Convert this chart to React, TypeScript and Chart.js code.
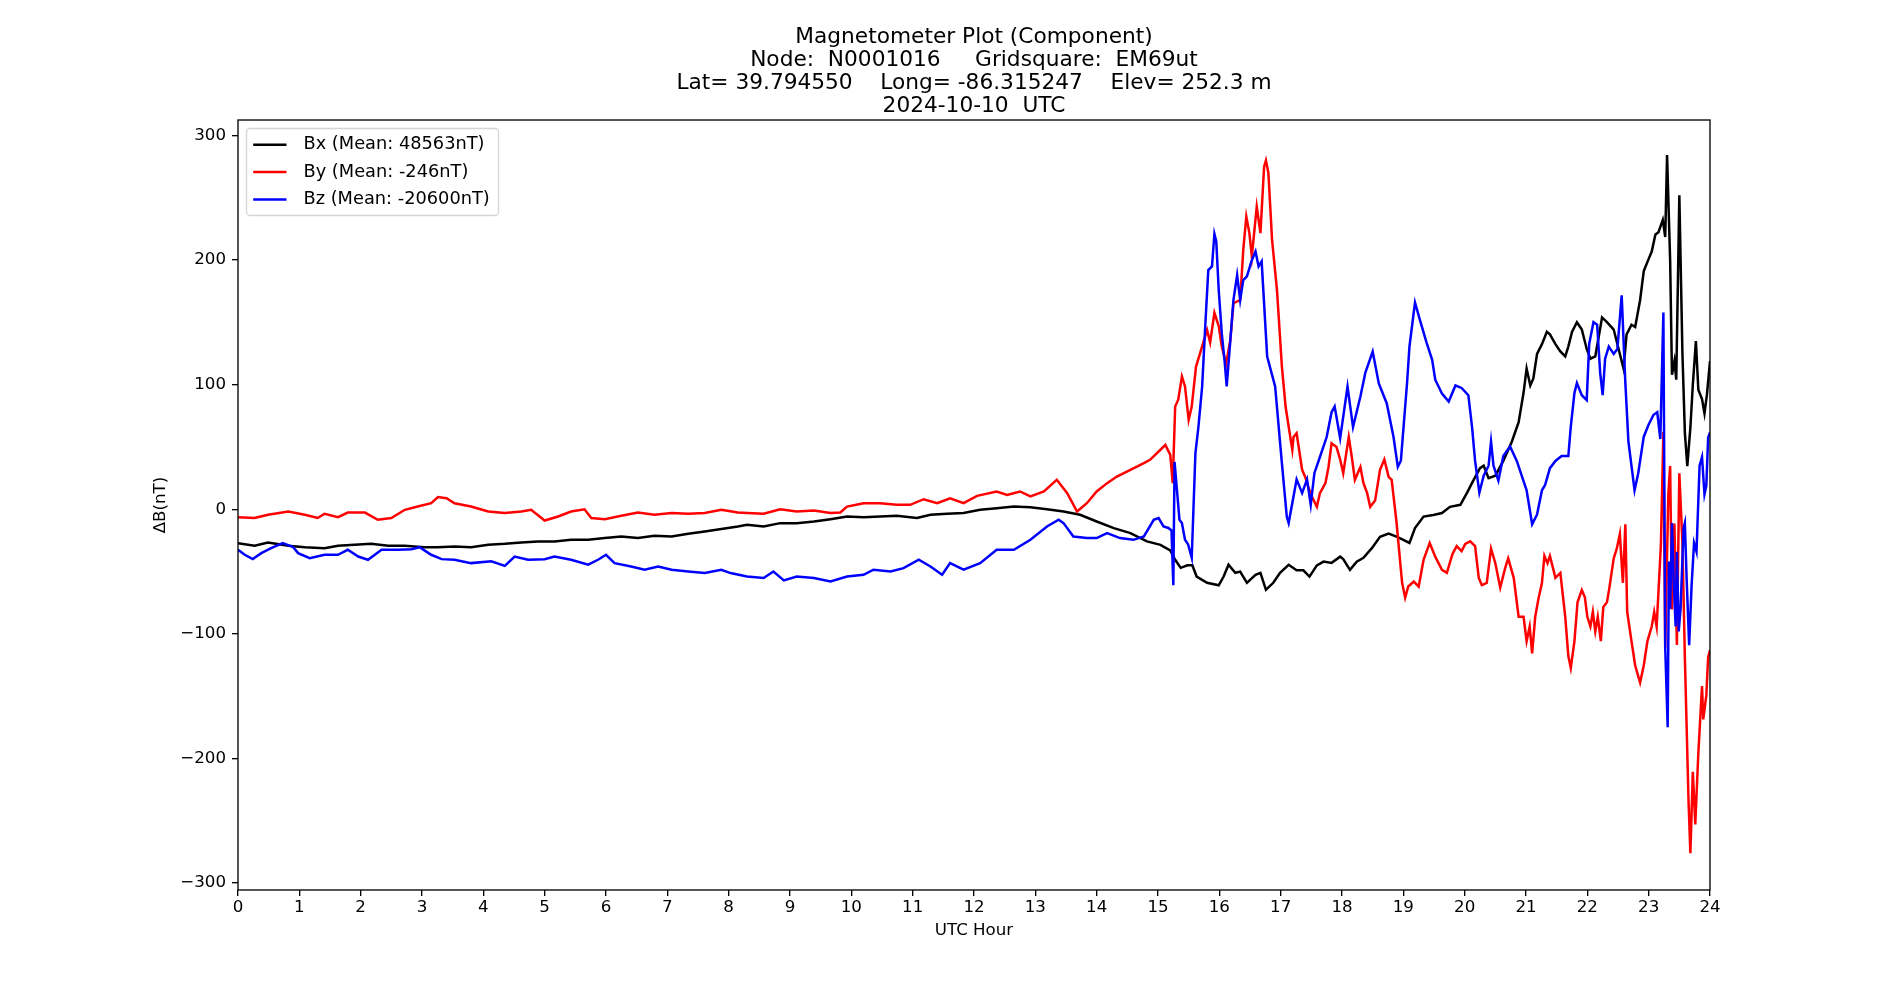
import React, { useEffect, useRef } from "react";
import { Chart, registerables } from "chart.js";

Chart.register(...registerables);

const titleLines = [
  "Magnetometer Plot (Component)",
  "Node:  N0001016     Gridsquare:  EM69ut",
  "Lat= 39.794550    Long= -86.315247    Elev= 252.3 m",
  "2024-10-10  UTC",
];
const xAxisTitle = "UTC Hour";
const yAxisTitle = "ΔB(nT)";
const seriesLabels = ["Bx (Mean: 48563nT)", "By (Mean: -246nT)", "Bz (Mean: -20600nT)"];
const seriesColors = ["#000000", "#ff0000", "#0000ff"];
const hourTicks = [0, 1, 2, 3, 4, 5, 6, 7, 8, 9, 10, 11, 12, 13, 14, 15, 16, 17, 18, 19, 20, 21, 22, 23, 24];
const deltaTicks = [-300, -200, -100, 0, 100, 200, 300];

const bxHours = [
  0, 0.27, 0.49, 0.82, 1.09, 1.41, 1.63, 1.9, 2.17, 2.45, 2.72, 3.04, 3.26, 3.53, 3.8, 4.08, 4.35, 4.62, 4.89, 5.16,
  5.43, 5.71, 5.98, 6.25, 6.52, 6.79, 7.07, 7.34, 7.61, 7.88, 8.15, 8.3, 8.57, 8.84, 9.11, 9.39, 9.66, 9.93, 10.2,
  10.47, 10.74, 11.07, 11.29, 11.56, 11.83, 12.1, 12.37, 12.65, 12.92, 13.19, 13.46, 13.73, 14.0, 14.28, 14.55, 14.82,
  15.04, 15.2, 15.28, 15.37, 15.48, 15.56, 15.63, 15.8, 15.99, 16.07, 16.15, 16.26, 16.34, 16.45, 16.59, 16.67, 16.76,
  16.88, 16.99, 17.13, 17.26, 17.37, 17.47, 17.59, 17.7, 17.83, 17.97, 18.02, 18.13, 18.24, 18.35, 18.49, 18.62,
  18.76, 18.89, 19.0, 19.1, 19.19, 19.33, 19.49, 19.63, 19.76, 19.93, 20.04, 20.14, 20.25, 20.31, 20.39, 20.5, 20.63,
  20.77, 20.88, 20.96, 21.01, 21.07, 21.12, 21.18, 21.26, 21.34, 21.39, 21.48, 21.56, 21.64, 21.69, 21.75, 21.83,
  21.91, 21.99, 22.05, 22.13, 22.24, 22.32, 22.43, 22.51, 22.59, 22.64, 22.72, 22.78, 22.86, 22.92, 23.0, 23.05,
  23.11, 23.16, 23.23, 23.27, 23.3, 23.35, 23.38, 23.42, 23.45, 23.5, 23.55, 23.59, 23.63, 23.68, 23.72, 23.77,
  23.81, 23.87, 23.91, 23.95, 24.0,
];
const bxValues = [
  -27.2, -29.3, -26.7, -29.3, -30.4, -31.2, -29.3, -28.5, -27.7, -29.3, -29.3, -30.4, -30.4, -29.8, -30.4, -28.5,
  -27.7, -26.6, -25.8, -25.8, -24.5, -24.5, -23.1, -21.8, -23.1, -21.3, -21.8, -19.7, -17.8, -15.9, -13.8, -12.4,
  -13.8, -11.1, -11.1, -9.8, -7.9, -5.8, -6.3, -5.8, -5.2, -7, -4.4, -3.6, -3, -0.4, 0.9, 2.2, 1.7, 0, -1.8, -4.4,
  -9.8, -15.1, -19.1, -25.8, -28.5, -33, -40.5, -47, -45, -45, -54, -59, -61, -54, -44.5, -51, -50, -59, -52.6, -51,
  -64.6, -59, -51, -44.5, -49, -49, -54, -45, -42, -43, -38, -40, -48.6, -42, -39, -31, -22, -19.5, -22, -24.5, -27,
  -15, -5.8, -4.5, -3, 2, 3.6, 13.4, 23, 33, 35, 25, 27, 38.8, 54.4, 70, 93.5, 113, 99.4, 105, 124.8, 132.6, 142.4,
  140.4, 132.6, 126.8, 122.8, 130.6, 142.4, 150.2, 144.3, 128.7, 120.9, 122.8, 154, 150.2, 144.3, 128.7, 113, 140.4,
  148.2, 146.3, 167.8, 191.2, 201, 206.9, 220.6, 222.5, 232.3, 218.6, 284.3, 200, 108, 119, 104, 252, 126, 61.6,
  34.7, 65.5, 100, 135, 96, 88.5, 77, 92, 119,
];

const byHours = [
  0, 0.27, 0.49, 0.82, 1.09, 1.3, 1.41, 1.63, 1.79, 2.07, 2.28, 2.5, 2.72, 2.93, 3.15, 3.26, 3.4, 3.53, 3.8, 4.08,
  4.35, 4.62, 4.78, 5.0, 5.22, 5.43, 5.65, 5.76, 5.98, 6.25, 6.52, 6.79, 7.07, 7.34, 7.61, 7.88, 8.15, 8.3, 8.57,
  8.84, 9.11, 9.39, 9.66, 9.82, 9.93, 10.2, 10.47, 10.74, 10.96, 11.18, 11.4, 11.61, 11.83, 12.05, 12.37, 12.54,
  12.75, 12.92, 13.14, 13.35, 13.52, 13.68, 13.84, 14.0, 14.17, 14.33, 14.55, 14.77, 14.87, 15.04, 15.12, 15.2,
  15.24, 15.28, 15.33, 15.39, 15.44, 15.5, 15.55, 15.62, 15.72, 15.8, 15.85, 15.92, 15.99, 16.04, 16.11, 16.18,
  16.23, 16.34, 16.39, 16.44, 16.49, 16.53, 16.61, 16.67, 16.73, 16.76, 16.8, 16.86, 16.94, 17.02, 17.08, 17.13,
  17.19, 17.21, 17.26, 17.35, 17.4, 17.45, 17.51, 17.59, 17.64, 17.73, 17.78, 17.83, 17.91, 17.97, 18.02, 18.11,
  18.16, 18.21, 18.3, 18.35, 18.41, 18.46, 18.54, 18.62, 18.69, 18.76, 18.81, 18.89, 18.98, 19.03, 19.08, 19.17,
  19.25, 19.33, 19.43, 19.52, 19.63, 19.71, 19.8, 19.87, 19.95, 20.01, 20.09, 20.17, 20.23, 20.28, 20.36, 20.43,
  20.5, 20.58, 20.66, 20.71, 20.8, 20.88, 20.96, 21.01, 21.06, 21.1, 21.15, 21.2, 21.26, 21.3, 21.35, 21.39, 21.48,
  21.56, 21.64, 21.69, 21.73, 21.79, 21.84, 21.91, 21.96, 22.0, 22.05, 22.09, 22.13, 22.17, 22.22, 22.26, 22.32,
  22.36, 22.43, 22.48, 22.53, 22.58, 22.62, 22.65, 22.72, 22.78, 22.86, 22.92, 22.98, 23.05, 23.09, 23.13, 23.18,
  23.2, 23.24, 23.27, 23.32, 23.35, 23.38, 23.42, 23.46, 23.5, 23.55, 23.59, 23.65, 23.68, 23.72, 23.76, 23.81,
  23.87, 23.89, 23.94, 23.97, 24.0,
];
const byValues = [
  -6.3, -7, -4.4, -1.8, -4.4, -7, -3.6, -6.3, -2.6, -2.6, -8.4, -7, -0.4, 2.2, 4.9, 9.8, 8.9, 4.9, 2.2, -1.8, -3,
  -1.8, -0.4, -9, -5.8, -1.8, 0, -7, -7.9, -5.2, -2.6, -4.4, -3, -3.6, -3, -0.4, -2.6, -3, -3.6, 0, -1.8, -1, -3,
  -2.6, 2.2, 4.9, 4.9, 3.6, 3.6, 8.1, 4.9, 8.9, 4.9, 10.8, 14.3, 11.6, 14.3, 10.3, 14.3, 23.7, 13, -1.8, 4.9, 14.3,
  21, 26.3, 31.7, 37, 39.7, 47.8, 51.7, 43.7, 21, 82.5, 88, 106.6, 98.6, 71.8, 82.5, 114.6, 130.7, 144, 134, 157.7,
  147, 130.7, 117, 136, 165.5, 168, 208, 235, 221.7, 203, 243, 221.7, 275, 280, 270, 216, 176, 114.6, 82.5, 66.5,
  47.8, 58, 61, 31.7, 26, 18, 10, 2, 13, 21, 34, 53, 50, 40, 29, 58, 42, 23.7, 34, 21, 13, 2, 7, 31.7, 40, 26, 23.7,
  -11, -59, -71, -62, -58, -62, -40.5, -27, -38, -48.6, -51, -36, -29.6, -33.5, -27.7, -25.7, -29.6, -55, -60.9, -59,
  -31.6, -43.3, -62.9, -47.2, -39.4, -55, -86.3, -86.3, -105.8, -94.1, -115.6, -86.3, -72.6, -59, -37.4, -43.3,
  -37.4, -55, -51.1, -86.3, -117.6, -127.4, -105.8, -74.6, -64.8, -70.7, -86.3, -94.1, -82.4, -98, -86.3, -105.8,
  -78.5, -74.6, -62.9, -39.4, -31.6, -19.9, -59, -12, -82.4, -105.8, -125.4, -139.1, -125.4, -105.8, -94.1, -82.4,
  -94.1, -47.2, -27.7, 62, -111, 11.6, 34.7, -80.4, -11.4, -109, 28.9, -26.7, -118.8, -233.9, -276, -210.8, -253,
  -195.5, -141.8, -168.6, -149.4, -118.8, -113,
];

const bzHours = [
  0, 0.11, 0.24, 0.38, 0.54, 0.73, 0.9, 0.98, 1.17, 1.41, 1.63, 1.79, 1.96, 2.12, 2.34, 2.61, 2.83, 2.96, 3.15, 3.32,
  3.53, 3.8, 4.13, 4.35, 4.51, 4.73, 5.0, 5.16, 5.43, 5.71, 5.87, 6.0, 6.14, 6.41, 6.63, 6.85, 7.07, 7.34, 7.61, 7.88,
  8.03, 8.3, 8.57, 8.73, 8.9, 9.11, 9.39, 9.66, 9.93, 10.2, 10.36, 10.64, 10.85, 11.1, 11.29, 11.48, 11.61, 11.83,
  12.1, 12.37, 12.65, 12.92, 13.19, 13.38, 13.46, 13.62, 13.84, 14.0, 14.17, 14.38, 14.6, 14.77, 14.93, 15.01, 15.09,
  15.17, 15.22, 15.25, 15.27, 15.35, 15.39, 15.44, 15.49, 15.55, 15.61, 15.66, 15.72, 15.77, 15.82, 15.88, 15.92,
  15.95, 15.99, 16.04, 16.09, 16.12, 16.18, 16.23, 16.29, 16.34, 16.39, 16.45, 16.53, 16.59, 16.64, 16.69, 16.78,
  16.91, 17.02, 17.1, 17.13, 17.26, 17.35, 17.43, 17.49, 17.55, 17.64, 17.75, 17.83, 17.88, 17.97, 18.09, 18.18,
  18.3, 18.38, 18.5, 18.6, 18.73, 18.84, 18.91, 18.96, 19.06, 19.1, 19.19, 19.27, 19.38, 19.47, 19.52, 19.63, 19.74,
  19.85, 19.95, 20.06, 20.12, 20.17, 20.24, 20.31, 20.39, 20.43, 20.47, 20.55, 20.63, 20.74, 20.85, 20.93, 21.01,
  21.1, 21.18, 21.26, 21.31, 21.39, 21.48, 21.58, 21.69, 21.73, 21.79, 21.83, 21.91, 21.99, 22.03, 22.1, 22.16, 22.21,
  22.25, 22.29, 22.35, 22.43, 22.49, 22.56, 22.62, 22.67, 22.73, 22.77, 22.83, 22.92, 23.0, 23.08, 23.14, 23.19,
  23.24, 23.27, 23.31, 23.33, 23.35, 23.38, 23.41, 23.44, 23.46, 23.49, 23.52, 23.57, 23.59, 23.62, 23.66, 23.7,
  23.74, 23.78, 23.83, 23.87, 23.91, 23.94, 23.97, 24.0,
];
const bzValues = [
  -32.5, -36.5, -40, -35.2, -31.2, -27.2, -30.4, -35.2, -39.2, -36.5, -36.5, -32.5, -37.9, -40.5, -32.5, -32.5, -32,
  -30.4, -36.5, -40, -40.5, -43.2, -41.8, -45.4, -37.9, -40.5, -40, -37.9, -40.5, -44.5, -40.5, -36.5, -43.2, -45.9,
  -48.5, -45.9, -48.5, -49.9, -51.2, -48.5, -51.2, -53.9, -55.2, -49.9, -57.1, -53.9, -55.2, -57.9, -53.9, -52.6,
  -48.5, -49.9, -47.2, -40.5, -45.9, -52.6, -43.2, -48.5, -43.2, -32.5, -32.5, -24.5, -13.8, -8.4, -11.1, -21.8,
  -23.1, -23.1, -19.1, -23.1, -24.5, -21.8, -8.4, -7, -13.8, -15, -17, -61, 38, -8.4, -11, -24.5, -28, -39, 45, 66.5,
  98.6, 146.7, 192, 195, 221, 215, 176, 141, 117, 98.6, 136, 168, 188, 168, 184, 187, 200, 207, 195, 199, 122.6,
  98.6, 37, -6, -11, 24, 13, 24, 3.6, 29, 42, 58, 78, 82.5, 57, 98.6, 66, 90.5, 109.5, 126.6, 101, 85, 58, 34, 39,
  101, 130.7, 166, 152, 133.6, 120, 104, 93, 86.5, 99.4, 97.4, 91.6, 66.1, 38.8, 13.4, 27, 35, 54.4, 35, 23, 42.7,
  50.5, 38.8, 27, 15.3, -12, -4.2, 15.3, 19.3, 33, 38.8, 42.7, 42.7, 66.1, 93.5, 101.3, 91.6, 87.7, 132.6, 150.2,
  148.2, 109.1, 91.6, 120.9, 130.6, 124.8, 128.7, 171.7, 101.3, 54.4, 31, 15.3, 29, 58.3, 68.1, 75.9, 77.9, 56.4,
  158, -111, -175, -42, -80, -11, -61, -94, -34, -98, -80, -15, -11, -57, -109, -61, -27, -34, 35, 42, 12, 19, 57.7,
  61.6,
];

const FONT = "'DejaVu Sans', 'Liberation Sans', sans-serif";

function fmtTick(v: number): string {
  return v < 0 ? "\u2212" + String(Math.abs(v)) : String(v);
}

const framePlugin = {
  id: "mplFrame",
  afterDraw(chart: any) {
    const { ctx, chartArea } = chart;
    ctx.save();
    ctx.strokeStyle = "#000";
    ctx.lineWidth = 1.33;
    ctx.strokeRect(chartArea.left, chartArea.top, chartArea.right - chartArea.left, chartArea.bottom - chartArea.top);
    ctx.restore();
  },
};

const legendPlugin = {
  id: "mplLegend",
  afterDraw(chart: any) {
    const { ctx, chartArea } = chart;
    const x0 = chartArea.left + 8.5;
    const y0 = chartArea.top + 8.5;
    const w = 252;
    const h = 87;
    ctx.save();
    ctx.beginPath();
    if ((ctx as any).roundRect) (ctx as any).roundRect(x0, y0, w, h, 3.5);
    else ctx.rect(x0, y0, w, h);
    ctx.fillStyle = "rgba(255,255,255,0.8)";
    ctx.fill();
    ctx.strokeStyle = "rgba(204,204,204,0.8)";
    ctx.lineWidth = 1.33;
    ctx.stroke();
    ctx.font = "17.8px " + FONT;
    ctx.textBaseline = "middle";
    ctx.textAlign = "left";
    chart.data.datasets.forEach((ds: any, i: number) => {
      const y = y0 + 16.2 + i * 27.4;
      ctx.beginPath();
      ctx.moveTo(x0 + 6.7, y);
      ctx.lineTo(x0 + 40, y);
      ctx.strokeStyle = ds.borderColor;
      ctx.lineWidth = 2.5;
      ctx.stroke();
      ctx.fillStyle = "#000";
      ctx.fillText(ds.label, x0 + 57, y);
    });
    ctx.restore();
  },
};

export default function App() {
  const ref = useRef<HTMLCanvasElement | null>(null);

  useEffect(() => {
    document.body.style.margin = "0";
    const canvas = ref.current;
    if (!canvas) return;
    Chart.defaults.font.family = FONT;
    const series = [
      [bxHours, bxValues],
      [byHours, byValues],
      [bzHours, bzValues],
    ];
    const datasets = series.map(([hs, vs], i) => ({
      label: seriesLabels[i],
      data: hs.map((hr, k) => ({ x: hr, y: vs[k] })),
      borderColor: seriesColors[i],
      backgroundColor: seriesColors[i],
      borderWidth: 2.5,
      pointRadius: 0,
      tension: 0,
      fill: false,
      order: 3 - i,
    }));
    const chart = new Chart(canvas, {
      type: "line",
      data: { datasets },
      options: {
        animation: false,
        responsive: false,
        maintainAspectRatio: false,
        devicePixelRatio: 1,
        layout: { padding: { left: 0, right: 190, top: 0, bottom: 0 } },
        plugins: {
          legend: { display: false },
          tooltip: { enabled: false },
          title: {
            display: true,
            fullSize: false,
            text: titleLines,
            color: "#000",
            font: { family: FONT, size: 21.7, weight: "normal", lineHeight: 1.06 },
            padding: { top: 26, bottom: 2 },
          },
        },
        scales: {
          x: {
            type: "linear",
            min: 0,
            max: 24,
            afterBuildTicks: (s: any) => {
              s.ticks = hourTicks.map((v) => ({ value: v }));
            },
            afterFit: (s: any) => {
              s.height = 110;
            },
            ticks: {
              color: "#000",
              font: { family: FONT, size: 16.67 },
              padding: 2,
              maxRotation: 0,
              autoSkip: false,
              callback: (v: any) => fmtTick(Number(v)),
            },
            grid: { drawOnChartArea: false, tickLength: 6, tickColor: "#000", tickWidth: 1.33, lineWidth: 1.33 },
            border: { display: false },
            title: {
              display: true,
              text: xAxisTitle,
              color: "#000",
              font: { family: FONT, size: 16.67 },
              padding: { top: 0, bottom: 59.4 },
            },
          },
          y: {
            type: "linear",
            min: -305.6,
            max: 312.5,
            afterBuildTicks: (s: any) => {
              s.ticks = deltaTicks.map((v) => ({ value: v }));
            },
            afterFit: (s: any) => {
              s.width = 238;
            },
            ticks: {
              color: "#000",
              font: { family: FONT, size: 16.67 },
              padding: 6,
              autoSkip: false,
              callback: (v: any) => fmtTick(Number(v)),
            },
            grid: { drawOnChartArea: false, tickLength: 6, tickColor: "#000", tickWidth: 1.33, lineWidth: 1.33 },
            border: { display: false },
            title: {
              display: true,
              text: yAxisTitle,
              color: "#000",
              font: { family: FONT, size: 16.67 },
              padding: { top: 151, bottom: 0 },
            },
          },
        },
      },
      plugins: [framePlugin, legendPlugin],
    } as any);
    return () => chart.destroy();
  }, []);

  return (
    <div style={{ position: "absolute", left: 0, top: 0, width: 1900, height: 1000, background: "#fff" }}>
      <canvas ref={ref} width={1900} height={1000} style={{ width: 1900, height: 1000, display: "block" }} />
    </div>
  );
}
